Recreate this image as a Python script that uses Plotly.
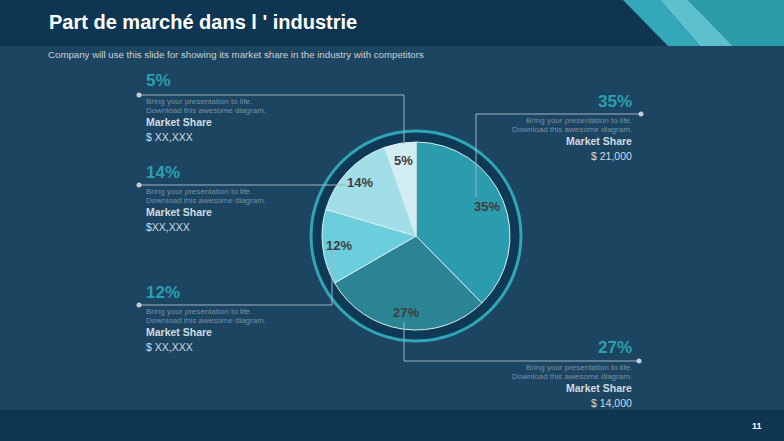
import math
import plotly.graph_objects as go

W, H = 784, 441

# ---- data ----
shares = [35, 27, 12, 14, 5]
share_text = ["35%", "27%", "12%", "14%", "5%"]
slice_colors = ["#2a9cad", "#2a8494", "#6bcedc", "#a1dee8", "#d2eef3"]

block_heads = ["5%", "14%", "12%", "35%", "27%"]
block_values = ["$ XX,XXX", "$XX,XXX", "$ XX,XXX", "$ 21,000", "$ 14,000"]
desc_line1 = "Bring your presentation to life."
desc_line2 = "Download this awesome diagram."
ms_label = "Market Share"

title = "Part de marché dans l ' industrie"
subtitle = "Company will use this slide for showing its market share in the industry with competitors"
page_no = "11"


def px(x):
    return x / W


def py(y):
    return 1 - y / H


BG = "#1c4561"
DARK = "#0e3653"
TEAL = "#2c9fb0"
LINE = "#9fb3c2"
FONT = "Liberation Sans, Arial, sans-serif"

cx, cy, R = 416, 236, 94

fig = go.Figure()
fig.add_trace(go.Pie(
    values=shares,
    sort=False,
    direction="clockwise",
    rotation=0,
    marker=dict(colors=slice_colors, line=dict(color="#d8eef2", width=1)),
    textinfo="none",
    hoverinfo="skip",
    showlegend=False,
    domain=dict(x=[px(cx - R), px(cx + R)], y=[py(cy + R), py(cy - R)]),
))

shapes = []
annotations = []

# background bands
shapes.append(dict(type="rect", xref="paper", yref="paper", x0=0, x1=1, y0=py(46), y1=1,
                   fillcolor=DARK, line=dict(width=0), layer="below"))
shapes.append(dict(type="rect", xref="paper", yref="paper", x0=0, x1=1, y0=0, y1=py(410),
                   fillcolor=DARK, line=dict(width=0), layer="below"))


def poly(pts, color):
    d = "M " + " L ".join(f"{px(x)},{py(y)}" for x, y in pts) + " Z"
    return dict(type="path", xref="paper", yref="paper", path=d, fillcolor=color,
                line=dict(width=0), layer="below")


shapes.append(poly([(688, 0), (784, 0), (784, 46), (733, 46)], "#2a9ca9"))
shapes.append(poly([(623, 0), (660, 0), (700, 46), (668, 46)], "#34a8b8"))
shapes.append(poly([(660, 0), (688, 0), (733, 46), (700, 46)], "#5cc0cd"))

# ring around pie
RR = 105
shapes.append(dict(type="circle", xref="paper", yref="paper",
                   x0=px(cx - RR), x1=px(cx + RR), y0=py(cy + RR), y1=py(cy - RR),
                   fillcolor="#0f3a56", line=dict(color="#2fa5b5", width=3), layer="below"))

# pie labels computed from data
total = sum(shares)
cum = 0
for v, t in zip(shares, share_text):
    mid = (cum + v / 2) / total * 2 * math.pi
    cum += v
    rf = 0.82
    lx = cx + rf * R * math.sin(mid)
    ly = cy - rf * R * math.cos(mid)
    annotations.append(dict(x=px(lx), y=py(ly), xref="paper", yref="paper", text=f"<b>{t}</b>",
                            showarrow=False, font=dict(family=FONT, size=13, color="#3e3e3e"),
                            xanchor="center", yanchor="middle"))


def seg(pts):
    for (x0, y0), (x1, y1) in zip(pts[:-1], pts[1:]):
        shapes.append(dict(type="line", xref="paper", yref="paper", x0=px(x0), y0=py(y0),
                           x1=px(x1), y1=py(y1), line=dict(color=LINE, width=1)))


def dot(x, y, r=2.5):
    shapes.append(dict(type="circle", xref="paper", yref="paper", x0=px(x - r), x1=px(x + r),
                       y0=py(y + r), y1=py(y - r), fillcolor="#c3cfd8", line=dict(width=0)))


def text(x, y, s, size, color, anchor, bold=False):
    annotations.append(dict(x=px(x), y=py(y), xref="paper", yref="paper",
                            text=f"<b>{s}</b>" if bold else s, showarrow=False,
                            font=dict(family=FONT, size=size, color=color),
                            xanchor=anchor, yanchor="middle"))


# blocks: (text x, anchor, head y, line y, dot x, connector path)
blocks = [
    (144, "left", 81, 95, 139, [(139, 95), (404, 95), (404, 144)]),
    (144, "left", 172, 185, 139, [(139, 185), (346, 185)]),
    (144, "left", 292, 305, 139, [(139, 305), (332, 305), (332, 251)]),
    (634, "right", 101, 114, 641, [(641, 114), (476, 114), (476, 197)]),
    (634, "right", 347, 361, 639, [(639, 361), (404, 361), (404, 322)]),
]
for (tx, anc, hy, ly, dx, path), head, val in zip(blocks, block_heads, block_values):
    seg(path)
    dot(dx, ly)
    text(tx, hy, head, 17, TEAL, anc, bold=True)
    text(tx, ly + 6.5, desc_line1, 8, "#7890a1", anc)
    text(tx, ly + 15.5, desc_line2, 8, "#7890a1", anc)
    text(tx, ly + 27, ms_label, 10.5, "#d3dbe1", anc, bold=True)
    text(tx, ly + 42, val, 10.5, "#d3dbe1", anc)

# title, subtitle, page number
annotations.append(dict(x=px(47), y=py(22), xref="paper", yref="paper", text=f"<b>{title}</b>",
                        showarrow=False, xanchor="left", yanchor="middle",
                        font=dict(family="Liberation Sans Narrow, Arial Narrow, Liberation Sans, sans-serif",
                                  size=20, color="#ffffff")))
text(46, 55, subtitle, 9.7, "#c9d2d9", "left")
text(757, 426, page_no, 9, "#ffffff", "center", bold=True)

fig.update_layout(
    width=W, height=H,
    margin=dict(l=0, r=0, t=0, b=0),
    paper_bgcolor=BG, plot_bgcolor=BG,
    shapes=shapes, annotations=annotations,
    showlegend=False,
)
fig.write_html("out.html")
